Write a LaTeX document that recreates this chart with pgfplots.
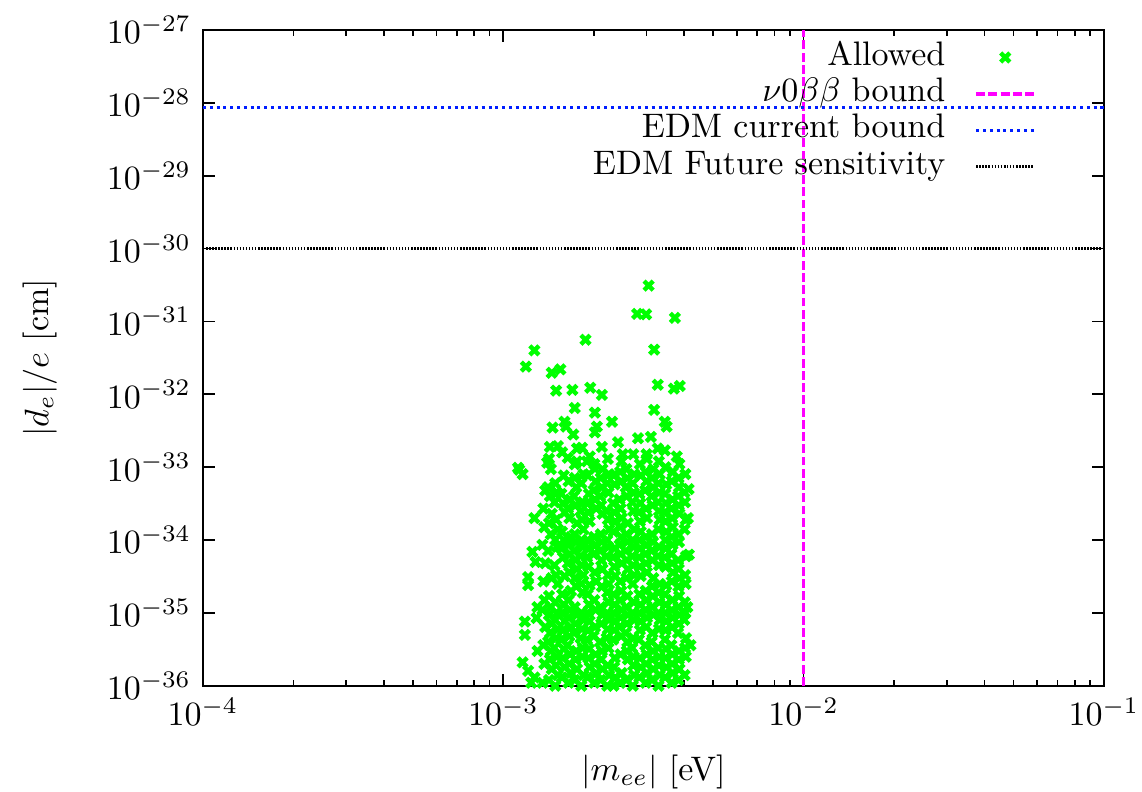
\documentclass[border=0pt]{standalone}
\usepackage{pgfplots}
\pgfplotsset{compat=1.18}
\definecolor{ptgreen}{RGB}{0,255,0}
\definecolor{ptmag}{RGB}{255,0,255}
\definecolor{ptblue}{RGB}{0,30,255}
\begin{document}
\begin{tikzpicture}
\begin{axis}[
  scale only axis, width=265pt, height=192.9pt,
  xmode=log, ymode=log,
  xmin=1e-4, xmax=1e-1, ymin=1e-36, ymax=1e-27,
  xtick={1e-4,1e-3,1e-2,1e-1},
  ytick={1e-36,1e-35,1e-34,1e-33,1e-32,1e-31,1e-30,1e-29,1e-28,1e-27},
  yminorticks=false,
  tick align=inside, major tick length=3.6pt, minor tick length=1.8pt,
  axis line style={line width=0.6pt},
  every tick/.style={line width=0.5pt, black},
  xlabel={$|m_{ee}|$ [eV]}, ylabel={$|d_e|/e$ [cm]},
  xlabel style={at={(axis description cs:0.5,-0.131)}, anchor=center},
  ylabel style={at={(axis description cs:-0.181,0.5)}, anchor=center},
  clip=false,
  legend plot pos=right,
  legend cell align=right,
  legend style={at={(axis description cs:0.9367,0.997)}, anchor=north east,
    draw=none, fill=none, column sep=8pt,
    nodes={inner sep=0.6pt, text height=7pt, text depth=2.5pt}},
]
\coordinate (O) at (rel axis cs:0,0);
\addplot[only marks, mark=x, mark size=1.9pt, mark options={ptgreen, line width=1.3pt}] coordinates {
(1.35e-3,1.1e-36) (1.37e-3,2.0e-36) (1.36e-3,3.6e-36) (1.38e-3,6.4e-36) (1.35e-3,1.1e-35) (1.37e-3,1.5e-35) (1.36e-3,2.7e-35) (1.38e-3,4.8e-35) (1.35e-3,8.6e-35) (1.37e-3,1.5e-34) (1.36e-3,2.7e-34) (1.38e-3,4.8e-34)
(1.42e-3,1.2e-36) (1.45e-3,1.7e-36) (1.43e-3,2.3e-36) (1.44e-3,3.0e-36) (1.41e-3,4.0e-36) (1.43e-3,5.3e-36) (1.45e-3,7.1e-36) (1.42e-3,9.4e-36) (1.44e-3,1.2e-35) (1.42e-3,1.7e-35) (1.45e-3,3.0e-35) (1.41e-3,7.1e-35) (1.44e-3,1.2e-34) (1.42e-3,1.7e-34) (1.45e-3,2.3e-34) (1.43e-3,4.0e-34) (1.41e-3,5.3e-34) (1.44e-3,9.4e-34) (1.42e-3,1.3e-33)
(1.49e-3,1.0e-36) (1.52e-3,1.4e-36) (1.50e-3,1.9e-36) (1.51e-3,2.5e-36) (1.48e-3,3.3e-36) (1.50e-3,4.5e-36) (1.52e-3,6.0e-36) (1.49e-3,8.0e-36) (1.51e-3,1.0e-35) (1.49e-3,1.4e-35) (1.52e-3,2.5e-35) (1.50e-3,3.3e-35) (1.48e-3,4.5e-35) (1.51e-3,8.0e-35) (1.49e-3,1.0e-34) (1.52e-3,1.4e-34) (1.50e-3,1.9e-34) (1.48e-3,3.3e-34) (1.51e-3,4.5e-34) (1.49e-3,6.0e-34)
(1.57e-3,1.3e-36) (1.60e-3,1.8e-36) (1.58e-3,2.4e-36) (1.59e-3,3.2e-36) (1.56e-3,4.3e-36) (1.58e-3,5.8e-36) (1.60e-3,7.7e-36) (1.57e-3,1.0e-35) (1.59e-3,1.3e-35) (1.57e-3,1.8e-35) (1.60e-3,3.2e-35) (1.58e-3,5.8e-35) (1.56e-3,7.7e-35) (1.59e-3,1.0e-34) (1.57e-3,1.3e-34) (1.60e-3,2.4e-34) (1.58e-3,3.2e-34) (1.56e-3,4.3e-34) (1.59e-3,7.7e-34) (1.57e-3,1.6e-33)
(1.65e-3,1.1e-36) (1.68e-3,1.5e-36) (1.66e-3,2.0e-36) (1.67e-3,2.7e-36) (1.64e-3,3.6e-36) (1.66e-3,4.8e-36) (1.68e-3,6.4e-36) (1.65e-3,8.6e-36) (1.67e-3,1.1e-35) (1.65e-3,1.5e-35) (1.68e-3,2.0e-35) (1.66e-3,3.6e-35) (1.64e-3,4.8e-35) (1.67e-3,6.4e-35) (1.65e-3,8.6e-35) (1.68e-3,1.1e-34) (1.66e-3,2.0e-34) (1.64e-3,2.7e-34) (1.67e-3,3.6e-34) (1.65e-3,6.4e-34)
(1.73e-3,1.2e-36) (1.76e-3,1.7e-36) (1.74e-3,2.3e-36) (1.75e-3,3.0e-36) (1.72e-3,5.3e-36) (1.74e-3,7.1e-36) (1.76e-3,9.4e-36) (1.73e-3,1.2e-35) (1.75e-3,2.3e-35) (1.73e-3,3.0e-35) (1.76e-3,4.0e-35) (1.74e-3,5.3e-35) (1.72e-3,7.1e-35) (1.75e-3,9.4e-35) (1.73e-3,1.2e-34) (1.76e-3,1.7e-34) (1.74e-3,3.0e-34) (1.72e-3,4.0e-34) (1.75e-3,5.3e-34) (1.73e-3,7.1e-34) (1.76e-3,1.2e-33)
(1.82e-3,1.0e-36) (1.85e-3,1.4e-36) (1.83e-3,2.5e-36) (1.84e-3,3.3e-36) (1.81e-3,4.5e-36) (1.83e-3,6.0e-36) (1.85e-3,8.0e-36) (1.82e-3,1.0e-35) (1.84e-3,1.9e-35) (1.82e-3,2.5e-35) (1.85e-3,3.3e-35) (1.83e-3,4.5e-35) (1.81e-3,6.0e-35) (1.84e-3,8.0e-35) (1.82e-3,1.0e-34) (1.85e-3,1.4e-34) (1.83e-3,1.9e-34) (1.81e-3,2.5e-34) (1.84e-3,3.3e-34) (1.82e-3,6.0e-34) (1.85e-3,8.0e-34)
(1.91e-3,1.3e-36) (1.94e-3,1.8e-36) (1.92e-3,2.4e-36) (1.93e-3,3.2e-36) (1.90e-3,4.3e-36) (1.92e-3,5.8e-36) (1.94e-3,7.7e-36) (1.91e-3,1.0e-35) (1.93e-3,1.3e-35) (1.91e-3,1.8e-35) (1.94e-3,2.4e-35) (1.92e-3,4.3e-35) (1.90e-3,5.8e-35) (1.93e-3,7.7e-35) (1.91e-3,1.0e-34) (1.94e-3,1.8e-34) (1.92e-3,2.4e-34) (1.90e-3,3.2e-34) (1.93e-3,4.3e-34) (1.91e-3,7.7e-34) (1.94e-3,1.4e-33)
(2.01e-3,1.1e-36) (2.04e-3,1.5e-36) (2.02e-3,2.0e-36) (2.03e-3,2.7e-36) (2.00e-3,4.8e-36) (2.02e-3,6.4e-36) (2.03e-3,1.1e-35) (2.01e-3,1.5e-35) (2.04e-3,2.7e-35) (2.02e-3,3.6e-35) (2.00e-3,6.4e-35) (2.03e-3,8.6e-35) (2.01e-3,1.1e-34) (2.04e-3,2.7e-34) (2.02e-3,3.6e-34) (2.00e-3,4.8e-34) (2.03e-3,6.4e-34) (2.01e-3,1.1e-33)
(2.11e-3,1.2e-36) (2.14e-3,1.7e-36) (2.12e-3,2.3e-36) (2.13e-3,3.0e-36) (2.10e-3,4.0e-36) (2.12e-3,7.1e-36) (2.14e-3,9.4e-36) (2.11e-3,1.2e-35) (2.13e-3,2.3e-35) (2.14e-3,4.0e-35) (2.12e-3,5.3e-35) (2.10e-3,7.1e-35) (2.13e-3,9.4e-35) (2.11e-3,1.2e-34) (2.14e-3,2.3e-34) (2.12e-3,3.0e-34) (2.10e-3,4.0e-34) (2.13e-3,5.3e-34) (2.11e-3,7.1e-34) (2.14e-3,9.4e-34)
(2.22e-3,1.0e-36) (2.25e-3,1.4e-36) (2.23e-3,1.9e-36) (2.24e-3,3.3e-36) (2.21e-3,4.5e-36) (2.23e-3,6.0e-36) (2.25e-3,8.0e-36) (2.22e-3,1.0e-35) (2.24e-3,1.4e-35) (2.22e-3,1.9e-35) (2.25e-3,2.5e-35) (2.23e-3,3.3e-35) (2.21e-3,6.0e-35) (2.24e-3,8.0e-35) (2.22e-3,1.0e-34) (2.25e-3,1.4e-34) (2.23e-3,1.9e-34) (2.21e-3,2.5e-34) (2.24e-3,4.5e-34) (2.22e-3,6.0e-34) (2.25e-3,8.0e-34) (2.23e-3,1.3e-33)
(2.33e-3,1.0e-36) (2.36e-3,1.3e-36) (2.34e-3,1.8e-36) (2.35e-3,2.4e-36) (2.32e-3,4.3e-36) (2.34e-3,5.8e-36) (2.36e-3,7.7e-36) (2.33e-3,1.0e-35) (2.35e-3,1.3e-35) (2.33e-3,1.8e-35) (2.36e-3,3.2e-35) (2.34e-3,4.3e-35) (2.32e-3,5.8e-35) (2.35e-3,7.7e-35) (2.33e-3,1.3e-34) (2.36e-3,1.8e-34) (2.34e-3,2.4e-34) (2.32e-3,3.2e-34) (2.35e-3,5.8e-34) (2.33e-3,7.7e-34)
(2.45e-3,1.1e-36) (2.48e-3,1.5e-36) (2.46e-3,2.7e-36) (2.47e-3,4.8e-36) (2.44e-3,6.4e-36) (2.46e-3,8.6e-36) (2.48e-3,1.1e-35) (2.45e-3,1.5e-35) (2.47e-3,2.0e-35) (2.45e-3,2.7e-35) (2.48e-3,4.8e-35) (2.46e-3,6.4e-35) (2.44e-3,8.6e-35) (2.47e-3,1.1e-34) (2.45e-3,1.5e-34) (2.48e-3,2.0e-34) (2.46e-3,2.7e-34) (2.44e-3,3.6e-34) (2.47e-3,6.4e-34) (2.45e-3,8.6e-34) (2.48e-3,1.2e-33)
(2.57e-3,1.2e-36) (2.60e-3,2.3e-36) (2.58e-3,3.0e-36) (2.59e-3,4.0e-36) (2.56e-3,5.3e-36) (2.58e-3,7.1e-36) (2.60e-3,9.4e-36) (2.57e-3,1.2e-35) (2.59e-3,1.7e-35) (2.57e-3,3.0e-35) (2.60e-3,4.0e-35) (2.58e-3,5.3e-35) (2.56e-3,7.1e-35) (2.59e-3,9.4e-35) (2.57e-3,1.2e-34) (2.60e-3,1.7e-34) (2.58e-3,4.0e-34) (2.56e-3,5.3e-34) (2.59e-3,7.1e-34) (2.57e-3,9.4e-34)
(2.70e-3,1.0e-36) (2.73e-3,1.4e-36) (2.71e-3,1.9e-36) (2.72e-3,2.5e-36) (2.69e-3,3.3e-36) (2.71e-3,4.5e-36) (2.73e-3,8.0e-36) (2.70e-3,1.0e-35) (2.72e-3,1.4e-35) (2.70e-3,2.5e-35) (2.73e-3,3.3e-35) (2.71e-3,4.5e-35) (2.69e-3,6.0e-35) (2.72e-3,8.0e-35) (2.70e-3,1.0e-34) (2.73e-3,1.4e-34) (2.71e-3,2.5e-34) (2.69e-3,3.3e-34) (2.72e-3,4.5e-34) (2.70e-3,6.0e-34) (2.73e-3,8.0e-34) (2.71e-3,1.5e-33)
(2.84e-3,1.3e-36) (2.87e-3,1.8e-36) (2.85e-3,2.4e-36) (2.83e-3,4.3e-36) (2.85e-3,5.8e-36) (2.87e-3,7.7e-36) (2.84e-3,1.0e-35) (2.86e-3,1.3e-35) (2.84e-3,1.8e-35) (2.87e-3,3.2e-35) (2.85e-3,4.3e-35) (2.83e-3,5.8e-35) (2.86e-3,7.7e-35) (2.84e-3,1.0e-34) (2.87e-3,1.3e-34) (2.85e-3,1.8e-34) (2.83e-3,2.4e-34) (2.86e-3,3.2e-34) (2.84e-3,4.3e-34) (2.87e-3,7.7e-34) (2.85e-3,1.1e-33)
(2.98e-3,1.1e-36) (3.01e-3,1.5e-36) (2.99e-3,2.0e-36) (3.00e-3,2.7e-36) (2.97e-3,3.6e-36) (2.99e-3,6.4e-36) (3.01e-3,8.6e-36) (2.98e-3,1.1e-35) (3.00e-3,1.5e-35) (2.98e-3,2.0e-35) (3.01e-3,3.6e-35) (2.99e-3,4.8e-35) (2.97e-3,6.4e-35) (3.00e-3,8.6e-35) (2.98e-3,1.1e-34) (3.01e-3,2.0e-34) (2.99e-3,2.7e-34) (2.97e-3,4.8e-34) (3.00e-3,6.4e-34) (2.98e-3,8.6e-34) (3.01e-3,1.3e-33)
(3.13e-3,1.2e-36) (3.16e-3,1.7e-36) (3.14e-3,2.3e-36) (3.15e-3,3.0e-36) (3.12e-3,4.0e-36) (3.14e-3,5.3e-36) (3.16e-3,9.4e-36) (3.13e-3,1.2e-35) (3.15e-3,1.7e-35) (3.13e-3,2.3e-35) (3.16e-3,3.0e-35) (3.14e-3,5.3e-35) (3.12e-3,7.1e-35) (3.15e-3,9.4e-35) (3.13e-3,1.2e-34) (3.14e-3,3.0e-34) (3.12e-3,4.0e-34) (3.15e-3,5.3e-34) (3.13e-3,7.1e-34) (3.16e-3,9.4e-34)
(3.29e-3,1.0e-36) (3.32e-3,1.4e-36) (3.30e-3,1.9e-36) (3.31e-3,2.5e-36) (3.28e-3,3.3e-36) (3.30e-3,6.0e-36) (3.32e-3,8.0e-36) (3.29e-3,1.0e-35) (3.31e-3,1.4e-35) (3.29e-3,1.9e-35) (3.32e-3,2.5e-35) (3.30e-3,4.5e-35) (3.28e-3,6.0e-35) (3.31e-3,8.0e-35) (3.29e-3,1.4e-34) (3.32e-3,1.9e-34) (3.30e-3,2.5e-34) (3.28e-3,3.3e-34) (3.31e-3,4.5e-34) (3.29e-3,6.0e-34) (3.32e-3,8.0e-34) (3.30e-3,1.2e-33)
(3.46e-3,1.3e-36) (3.49e-3,1.8e-36) (3.47e-3,2.4e-36) (3.48e-3,3.2e-36) (3.45e-3,4.3e-36) (3.47e-3,5.8e-36) (3.49e-3,7.7e-36) (3.46e-3,1.0e-35) (3.48e-3,1.3e-35) (3.46e-3,1.8e-35) (3.49e-3,2.4e-35) (3.47e-3,4.3e-35) (3.45e-3,5.8e-35) (3.48e-3,7.7e-35) (3.46e-3,1.0e-34) (3.49e-3,1.3e-34) (3.47e-3,1.8e-34) (3.45e-3,2.4e-34) (3.48e-3,3.2e-34) (3.46e-3,4.3e-34) (3.49e-3,5.8e-34) (3.47e-3,1.0e-33)
(3.64e-3,1.1e-36) (3.67e-3,1.5e-36) (3.65e-3,2.0e-36) (3.66e-3,2.7e-36) (3.63e-3,3.6e-36) (3.65e-3,6.4e-36) (3.67e-3,8.6e-36) (3.64e-3,1.1e-35) (3.66e-3,1.5e-35) (3.64e-3,2.7e-35) (3.67e-3,3.6e-35) (3.65e-3,4.8e-35) (3.63e-3,6.4e-35) (3.66e-3,8.6e-35) (3.64e-3,1.1e-34) (3.67e-3,1.5e-34) (3.65e-3,2.0e-34) (3.63e-3,2.7e-34) (3.66e-3,3.6e-34) (3.64e-3,6.4e-34) (3.67e-3,8.6e-34)
(3.83e-3,1.2e-36) (3.86e-3,1.7e-36) (3.84e-3,2.3e-36) (3.85e-3,3.0e-36) (3.82e-3,5.3e-36) (3.84e-3,7.1e-36) (3.86e-3,9.4e-36) (3.83e-3,1.2e-35) (3.85e-3,1.7e-35) (3.83e-3,2.3e-35) (3.86e-3,3.0e-35) (3.84e-3,4.0e-35) (3.82e-3,5.3e-35) (3.85e-3,9.4e-35) (3.83e-3,1.2e-34) (3.86e-3,2.3e-34) (3.84e-3,3.0e-34) (3.82e-3,4.0e-34) (3.85e-3,5.3e-34) (3.83e-3,7.1e-34) (3.86e-3,1.1e-33)
(4.02e-3,1.4e-36) (4.05e-3,2.5e-36) (4.03e-3,3.3e-36) (4.06e-3,4.5e-36) (4.01e-3,8.0e-36) (4.04e-3,1.0e-35) (4.02e-3,1.4e-35) (4.05e-3,2.5e-35) (4.03e-3,3.3e-35) (4.06e-3,6.0e-35) (4.02e-3,1.4e-34) (4.05e-3,1.9e-34) (4.03e-3,3.3e-34) (4.01e-3,4.5e-34) (4.04e-3,8.0e-34)
(4.12e-3,2.0e-34) (4.15e-3,6.3e-35) (4.20e-3,3.6e-36) (4.10e-3,1.2e-35) (4.14e-3,5.0e-34)
(1.12e-3,9.8e-34) (1.16e-3,8.0e-34) (1.18e-3,7.6e-36) (1.29e-3,8.5e-36) (1.18e-3,5.0e-36) (1.16e-3,2.1e-36) (1.21e-3,1.6e-36) (1.24e-3,1.1e-36) (1.21e-3,2.4e-35) (1.21e-3,3.1e-35) (1.27e-3,2.0e-34) (1.25e-3,6.9e-35) (1.30e-3,1.2e-35) (1.28e-3,5.0e-35) (1.30e-3,3.0e-36) (1.27e-3,1.3e-36)
(3.05e-3,3.1e-31) (2.79e-3,1.27e-31) (2.99e-3,1.25e-31) (3.73e-3,1.12e-31) (1.88e-3,5.6e-32) (3.18e-3,4.1e-32) (1.27e-3,4.0e-32) (1.19e-3,2.4e-32) (1.45e-3,1.97e-32) (1.55e-3,2.2e-32)
(3.27e-3,1.35e-32) (3.70e-3,1.2e-32) (3.87e-3,1.3e-32) (1.50e-3,1.12e-32) (1.70e-3,1.15e-32) (1.95e-3,1.23e-32) (2.13e-3,9.8e-33)
(1.73e-3,6.5e-33) (2.02e-3,5.6e-33) (3.18e-3,6.1e-33) (3.45e-3,4.2e-33) (3.50e-3,3.6e-33) (2.30e-3,4.2e-33) (1.60e-3,4.2e-33) (1.62e-3,3.6e-33) (1.46e-3,3.5e-33) (2.05e-3,3.6e-33) (2.02e-3,3.0e-33) (1.71e-3,2.8e-33) (2.81e-3,2.5e-33) (3.10e-3,2.6e-33) (2.41e-3,2.2e-33)
(1.43e-3,1.9e-33) (1.52e-3,1.95e-33) (1.76e-3,1.8e-33) (1.83e-3,1.85e-33) (2.13e-3,1.9e-33) (2.50e-3,1.5e-33) (3.00e-3,1.5e-33) (3.27e-3,1.8e-33) (3.45e-3,1.7e-33) (3.78e-3,1.4e-33) (1.13e-3,9.2e-34) (1.40e-3,1.15e-33) (1.64e-3,1.35e-33) (1.73e-3,1.1e-33) (1.90e-3,1.2e-33) (2.02e-3,9.5e-34)
};
\addlegendentry{Allowed}
\addplot[ptmag, line width=1pt, dash pattern=on 2.6pt off 1pt] coordinates {(1e-2,1e-36) (1e-2,1e-27)};
\addlegendentry{$\nu0\beta\beta$ bound}
\addplot[ptblue, line width=1pt, dash pattern=on 0.9pt off 1.1pt] coordinates {(1e-4,8.7e-29) (1e-1,8.7e-29)};
\addlegendentry{EDM current bound}
\addplot[black, line width=0.9pt, dash pattern=on 0.45pt off 0.45pt] coordinates {(1e-4,1e-30) (1e-1,1e-30)};
\addlegendentry{EDM Future sensitivity}
\end{axis}
\pgfresetboundingbox
\path[use as bounding box] ([xshift=-59.7pt,yshift=-31.2pt]O) rectangle ++(335.9pt,232.9pt);
\end{tikzpicture}
\end{document}
